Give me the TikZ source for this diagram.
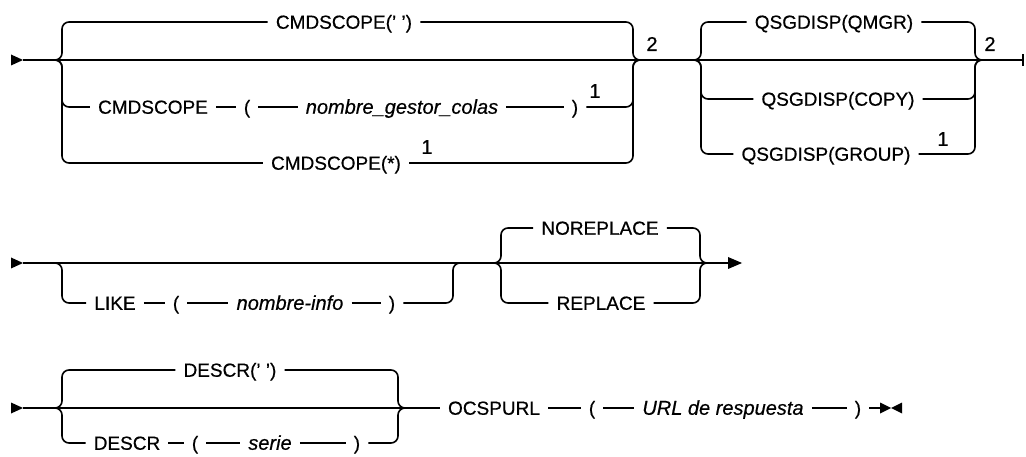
\documentclass[tikz,border=0pt]{standalone}
\usepackage{fontspec}
\setmainfont{Liberation Sans}[FakeBold=0.5]
\begin{document}
\begin{tikzpicture}[x=1pt,y=-1pt]
\tikzset{
  rail/.style={line width=1.6pt, rounded corners=7pt},
  seg/.style={line width=1.6pt},
  kw/.style={font=\fontsize{19}{22}\selectfont, inner xsep=8pt, inner ysep=0pt, text height=13.5pt, text depth=0pt},
  var/.style={kw, font=\fontsize{20}{22}\selectfont\itshape},
  fn/.style={font=\fontsize{20}{22}\selectfont, inner sep=0pt},
  tip/.style={fill=black}
}
\useasboundingbox (0,0) rectangle (1026,457);

% ---------------- Row 1 ----------------
\coordinate (s1) at (23,60);
\coordinate (e1) at (1023,60);
\coordinate (a1) at (54,60);   % split group 1
\coordinate (b1) at (641,60);  % join group 1
\coordinate (a2) at (693,60);  % split group 2
\coordinate (b2) at (983,60);  % join group 2
\fill[tip] (11,54.5) -- (s1) -- (11,65.5) -- cycle;
\draw[seg] (s1) -- (e1);
\draw[seg] (1023,54) -- (1023,66);

\node[kw] (c1) at (344,22) {CMDSCOPE(' ')};
\node[kw] (c2a) at (153,107) {CMDSCOPE};
\node[kw] (c2b) at (247,107) {(};
\node[var] (c2c) at (402,107) {nombre\_gestor\_colas};
\node[kw] (c2d) at (575,107) {)};
\node[kw] (c3) at (336,163) {CMDSCOPE(*)};
\node[fn] (n1) at (595,91) {1};
\node[fn] (n2) at (427,147) {1};
\node[fn] (n3) at (652,44) {2};

\draw[rail] (a1) -| (62,22) -- (c1.west);
\draw[rail] (c1.east) -| (633,60) -- (b1);
\draw[rail] (a1) -| (62,107) -- (c2a.west);
\draw[seg] (c2a.east) -- (c2b.west);
\draw[seg] (c2b.east) -- (c2c.west);
\draw[seg] (c2c.east) -- (c2d.west);
\draw[rail] (c2d.east) -| (633,60) -- (b1);
\draw[rail] (a1) -| (62,163) -- (c3.west);
\draw[rail] (c3.east) -| (633,60) -- (b1);

\node[kw] (q1) at (834,22) {QSGDISP(QMGR)};
\node[kw] (q2) at (838,99) {QSGDISP(COPY)};
\node[kw] (q3) at (826,154) {QSGDISP(GROUP)};
\node[fn] (n4) at (943,139) {1};
\node[fn] (n5) at (990,44) {2};

\draw[rail] (a2) -| (701,22) -- (q1.west);
\draw[rail] (q1.east) -| (975,60) -- (b2);
\draw[rail] (a2) -| (701,99) -- (q2.west);
\draw[rail] (q2.east) -| (975,60) -- (b2);
\draw[rail] (a2) -| (701,154) -- (q3.west);
\draw[rail] (q3.east) -| (975,60) -- (b2);

% ---------------- Row 2 ----------------
\coordinate (s2) at (23,263);
\coordinate (e2) at (728,263);
\coordinate (a3) at (54,263);
\coordinate (b3) at (461,263);
\coordinate (a4) at (493,263);
\coordinate (b4) at (708,263);
\fill[tip] (11,257.5) -- (s2) -- (11,268.5) -- cycle;
\draw[seg] (s2) -- (e2);
\fill[tip] (728,257) -- (742,263) -- (728,269) -- cycle;

\node[kw] (l1) at (115,303) {LIKE};
\node[kw] (l2) at (176,303) {(};
\node[var] (l3) at (290,303) {nombre-info};
\node[kw] (l4) at (392,303) {)};
\draw[rail] (a3) -| (62,303) -- (l1.west);
\draw[seg] (l1.east) -- (l2.west);
\draw[seg] (l2.east) -- (l3.west);
\draw[seg] (l3.east) -- (l4.west);
\draw[rail] (l4.east) -| (453,263) -- (b3);

\node[kw] (r1) at (600,228) {NOREPLACE};
\node[kw] (r2) at (601,303) {REPLACE};
\draw[rail] (a4) -| (501,228) -- (r1.west);
\draw[rail] (r1.east) -| (700,263) -- (b4);
\draw[rail] (a4) -| (501,303) -- (r2.west);
\draw[rail] (r2.east) -| (700,263) -- (b4);

% ---------------- Row 3 ----------------
\coordinate (s3) at (23,408);
\coordinate (e3) at (880,408);
\coordinate (a5) at (54,408);
\coordinate (b5) at (406,408);
\fill[tip] (11,402.5) -- (s3) -- (11,413.5) -- cycle;

\node[kw] (d1) at (230,370) {DESCR(' ')};
\node[kw] (d2) at (127,443) {DESCR};
\node[kw] (d3) at (195,443) {(};
\node[var] (d4) at (270,443) {serie};
\node[kw] (d5) at (357,443) {)};
\node[kw] (o1) at (494,408) {OCSPURL};
\node[kw] (o2) at (592,408) {(};
\node[var] (o3) at (723,408) {URL de respuesta};
\node[kw] (o4) at (858,408) {)};

\draw[seg] (s3) -- (o1.west);
\draw[rail] (a5) -| (62,370) -- (d1.west);
\draw[rail] (d1.east) -| (398,408) -- (b5);
\draw[rail] (a5) -| (62,443) -- (d2.west);
\draw[seg] (d2.east) -- (d3.west);
\draw[seg] (d3.east) -- (d4.west);
\draw[seg] (d4.east) -- (d5.west);
\draw[rail] (d5.east) -| (398,408) -- (b5);
\draw[seg] (o1.east) -- (o2.west);
\draw[seg] (o2.east) -- (o3.west);
\draw[seg] (o3.east) -- (o4.west);
\draw[seg] (o4.east) -- (e3);
\fill[tip] (880,402.5) -- (891,408) -- (880,413.5) -- cycle;
\fill[tip] (902,402.5) -- (891,408) -- (902,413.5) -- cycle;
\end{tikzpicture}
\end{document}
